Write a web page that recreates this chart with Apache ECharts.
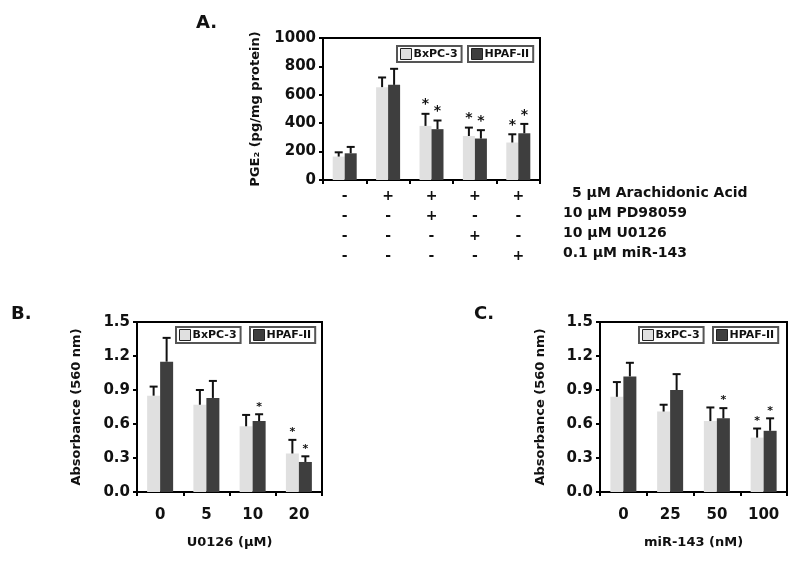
<!DOCTYPE html>
<html><head><meta charset="utf-8">
<script src="https://cdn.jsdelivr.net/npm/echarts@6/dist/echarts.min.js"></script>
<style>html,body{margin:0;padding:0;background:#fff}#c{width:800px;height:563px}</style>
</head><body><div id="c"></div>
<script>
// ---------- data ----------
const catsA = ['1', '2', '3', '4', '5'];
const signsArachidonic = ['-', '+', '+', '+', '+'];
const signsPD = ['-', '-', '+', '-', '-'];
const signsU0126 = ['-', '-', '-', '+', '-'];
const signsMiR = ['-', '-', '-', '-', '+'];
const treatments = ['5 µM Arachidonic Acid', '10 µM PD98059', '10 µM U0126', '0.1 µM miR-143'];
const pgeBx = [165, 654, 381, 310, 264];
const pgeBxErr = [30, 68, 85, 59, 58];
const pgeBxStar = [0, 0, 1, 1, 1];
const pgeHp = [188, 670, 358, 292, 329];
const pgeHpErr = [45, 113, 61, 59, 66];
const pgeHpStar = [0, 0, 1, 1, 1];

const catsB = ['0', '5', '10', '20'];
const absBBx = [0.85, 0.77, 0.58, 0.34];
const absBBxErr = [0.08, 0.13, 0.10, 0.12];
const absBBxStar = [0, 0, 0, 1];
const absBHp = [1.15, 0.83, 0.626, 0.265];
const absBHpErr = [0.21, 0.15, 0.06, 0.05];
const absBHpStar = [0, 0, 1, 1];

const catsC = ['0', '25', '50', '100'];
const absCBx = [0.84, 0.71, 0.626, 0.48];
const absCBxErr = [0.13, 0.06, 0.12, 0.08];
const absCBxStar = [0, 0, 0, 1];
const absCHp = [1.02, 0.90, 0.65, 0.54];
const absCHpErr = [0.12, 0.14, 0.09, 0.11];
const absCHpStar = [0, 0, 1, 1];

const seriesNames = ['BxPC-3', 'HPAF-II'];
// ---------- styles ----------
const LIGHT = '#e0e0e0', DARK = '#3e3e3e';
const FONT = '"DejaVu Sans", sans-serif';
const signRows = [signsArachidonic, signsPD, signsU0126, signsMiR];

const chart = echarts.init(document.getElementById('c'));

const grids = [
  {left: 323, top: 38, width: 217, height: 142},
  {left: 137, top: 322, width: 185, height: 170},
  {left: 600, top: 322, width: 187, height: 170}
];
const barW = [12, 13, 13];

function xAxisFor(i, cats, name) {
  return {
    type: 'category', gridIndex: i, data: cats,
    axisLine: {lineStyle: {color: '#000', width: 2}},
    axisTick: {show: true, alignWithLabel: false, length: 4, lineStyle: {color: '#000', width: 2}},
    axisLabel: {color: '#111', fontFamily: FONT, fontWeight: 'bold', fontSize: 15, margin: 16},
    name: name, nameLocation: 'middle', nameGap: 44,
    nameTextStyle: {color: '#111', fontFamily: FONT, fontWeight: 'bold', fontSize: 13}
  };
}
function yAxisFor(i, max, interval, name, dec, gap) {
  return {
    type: 'value', gridIndex: i, min: 0, max: max, interval: interval,
    axisLine: {show: true, lineStyle: {color: '#000', width: 2}},
    axisTick: {show: true, length: 4, lineStyle: {color: '#000', width: 2}},
    splitLine: {show: false},
    axisLabel: {color: '#111', fontFamily: FONT, fontWeight: 'bold', fontSize: 15, margin: 7,
      formatter: v => v.toFixed(dec)},
    name: name, nameLocation: 'middle', nameGap: gap, nameRotate: 90,
    nameTextStyle: {color: '#111', fontFamily: FONT, fontWeight: 'bold', fontSize: 13}
  };
}

const xA = xAxisFor(0, catsA, '');
xA.axisLabel = {color: '#111', fontFamily: FONT, fontWeight: 'bold', fontSize: 14, margin: 6, lineHeight: 20,
  formatter: (v, idx) => signRows.map(r => r[idx]).join('\n')};

function barSeries(name, gi, data, color) {
  return {type: 'bar', name: name, xAxisIndex: gi, yAxisIndex: gi, data: data,
    barWidth: barW[gi], barGap: '0%', itemStyle: {color: color}, silent: true};
}
function errSeries(gi, vals, errs, stars, side, starSize) {
  return {
    type: 'custom', xAxisIndex: gi, yAxisIndex: gi, silent: true, z: 5,
    data: vals.map((v, i) => [i, v, errs[i], stars[i]]),
    encode: {x: 0, y: 1},
    renderItem: function (params, api) {
      const c = api.value(0), v = api.value(1), e = api.value(2), s = api.value(3);
      const b = api.coord([c, v]), t = api.coord([c, v + e]);
      const x = b[0] + side * barW[gi] / 2;
      const cap = 4;
      const st = {stroke: '#111', lineWidth: 2};
      const ch = [
        {type: 'line', shape: {x1: x, y1: b[1], x2: x, y2: t[1]}, style: st},
        {type: 'line', shape: {x1: x - cap, y1: t[1], x2: x + cap, y2: t[1]}, style: st}
      ];
      if (s) ch.push({type: 'text', style: {text: '*', x: x, y: t[1] - 2, align: 'center', verticalAlign: 'bottom',
        fill: '#111', font: 'bold ' + starSize + 'px ' + FONT}});
      return {type: 'group', children: ch};
    }
  };
}

function legendBox(name, left, top) {
  return {
    data: [name], left: left, top: top, orient: 'horizontal',
    icon: 'rect', itemWidth: 11, itemHeight: 11, itemGap: 0,
    padding: [2, 4, 2, 3], borderColor: '#555', borderWidth: 2, backgroundColor: '#fff',
    itemStyle: {borderColor: '#222', borderWidth: 1},
    textStyle: {color: '#111', fontFamily: FONT, fontWeight: 'bold', fontSize: 11, padding: [0, 0, 0, -3]},
    selectedMode: false
  };
}

const option = {
  animation: false,
  backgroundColor: '#fff',
  grid: grids.map(g => Object.assign({show: true, borderColor: '#000', borderWidth: 2, backgroundColor: 'transparent'}, g)),
  xAxis: [xA, xAxisFor(1, catsB, 'U0126 (µM)'), xAxisFor(2, catsC, 'miR-143 (nM)')],
  yAxis: [
    yAxisFor(0, 1000, 200, 'PGE₂ (pg/mg protein)', 0, 61),
    yAxisFor(1, 1.5, 0.3, 'Absorbance (560 nm)', 1, 54),
    yAxisFor(2, 1.5, 0.3, 'Absorbance (560 nm)', 1, 53)
  ],
  legend: [
    legendBox(seriesNames[0], 397, 46), legendBox(seriesNames[1], 468, 46),
    legendBox(seriesNames[0], 176, 327), legendBox(seriesNames[1], 250, 327),
    legendBox(seriesNames[0], 639, 327), legendBox(seriesNames[1], 713, 327)
  ],
  series: [
    barSeries(seriesNames[0], 0, pgeBx, LIGHT), barSeries(seriesNames[1], 0, pgeHp, DARK),
    barSeries(seriesNames[0], 1, absBBx, LIGHT), barSeries(seriesNames[1], 1, absBHp, DARK),
    barSeries(seriesNames[0], 2, absCBx, LIGHT), barSeries(seriesNames[1], 2, absCHp, DARK),
    errSeries(0, pgeBx, pgeBxErr, pgeBxStar, -1, 14), errSeries(0, pgeHp, pgeHpErr, pgeHpStar, 1, 14),
    errSeries(1, absBBx, absBBxErr, absBBxStar, -1, 11), errSeries(1, absBHp, absBHpErr, absBHpStar, 1, 11),
    errSeries(2, absCBx, absCBxErr, absCBxStar, -1, 11), errSeries(2, absCHp, absCHpErr, absCHpStar, 1, 11)
  ],
  graphic: [
    {type: 'text', left: 196, top: 14, style: {text: 'A.', font: 'bold 18px ' + FONT, fill: '#111'}},
    {type: 'text', left: 11, top: 305, style: {text: 'B.', font: 'bold 18px ' + FONT, fill: '#111'}},
    {type: 'text', left: 474, top: 305, style: {text: 'C.', font: 'bold 18px ' + FONT, fill: '#111'}}
  ].concat(treatments.map((t, i) => ({
    type: 'text', left: [572, 563, 563, 563][i], top: 195 + i * 20 - 9,
    style: {text: t, font: 'bold 14px ' + FONT, fill: '#111'}
  })))
};
chart.setOption(option);
</script></body></html>
